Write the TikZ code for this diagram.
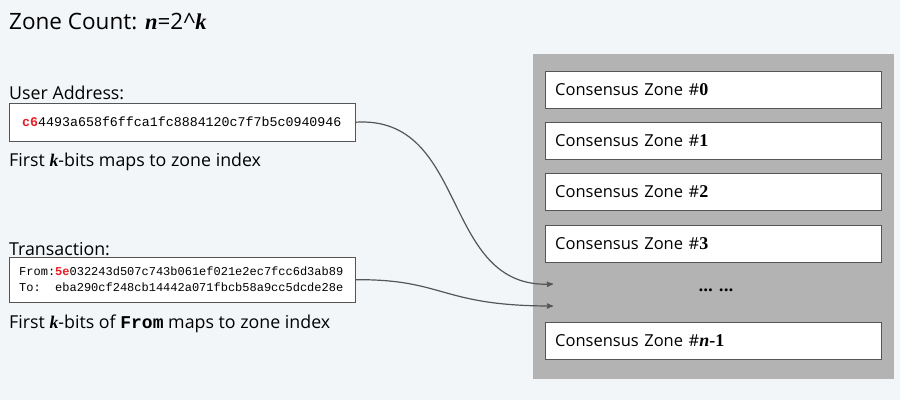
\documentclass[tikz,border=0pt]{standalone}
\usepackage{fontspec}
\usepackage{xcolor}
\setmainfont{Open Sans}
\setmonofont{Liberation Mono}
\newfontfamily\serifbi{Liberation Serif}
\usetikzlibrary{arrows, positioning}
\definecolor{zonebg}{RGB}{243, 246, 249}
\definecolor{zonegray}{RGB}{179, 179, 179}
\definecolor{zoneline}{RGB}{85, 85, 85}
\definecolor{zonered}{RGB}{235, 28, 36}
\newcommand{\bvar}[1]{{\serifbi\bfseries\itshape #1}}
\newcommand{\hexred}[1]{{\color{zonered}\bfseries #1}}

\begin{document}
\begin{tikzpicture}[x=1pt, y=-1pt,
  label/.style={anchor=base west, inner sep=0pt, font=\fontsize{17.8}{20}\selectfont},
  zonebox/.style={draw=zoneline, fill=white, anchor=north west, minimum height=37pt,
    text width=316pt, inner xsep=10pt, align=left, font=\fontsize{16.5}{20}\selectfont},
  hexbox/.style={draw=zoneline, fill=white, anchor=north west, align=left}]
\fill[zonebg] (0,0) rectangle (900,400);
\useasboundingbox (0,0) rectangle (900,400);
% title
\node[label, font=\fontsize{22.5}{26}\selectfont] (title) at (9,29.5) {Zone Count: \bvar{n}=2\^{}\bvar{k}};
% user address
\node[label] (addrlbl) at (9,99) {User Address:};
\node[hexbox, text width=320pt, inner xsep=13pt, minimum height=38pt,
  font=\fontsize{13.3}{16}\ttfamily] (addr) at (9,103) {\hexred{c6}4493a658f6ffca1fc8884120c7f7b5c0940946};
\node[label] (addrnote) at (9,166) {First \bvar{k}-bits maps to zone index};
% transaction
\node[label] (txlbl) at (9,255) {Transaction:};
\node[hexbox, text width=326pt, inner xsep=10pt, minimum height=45pt,
  font=\fontsize{12}{16}\ttfamily] (tx) at (9,257)
  {From:\hexred{5e}032243d507c743b061ef021e2ec7fcc6d3ab89\\To:\hphantom{xx}eba290cf248cb14442a071fbcb58a9cc5dcde28e};
\node[label] (txnote) at (9,328) {First \bvar{k}-bits of {\fontsize{18}{20}\ttfamily\bfseries From} maps to zone index};
% zones
\fill[zonegray] (533,54) rectangle (894,379);
\foreach \i/\y in {0/71, 1/122, 2/173, 3/225}
  \node[zonebox] (zone\i) at (545,\y) {Consensus Zone \#{\serifbi\bfseries\fontsize{18}{20}\selectfont\i}};
\node[font=\fontsize{17}{20}\selectfont\bfseries] (dots) at (716,290) {... ...};
\node[zonebox] (zonen) at (545,322) {Consensus Zone \#{\fontsize{18}{20}\selectfont\bvar{n}\serifbi\bfseries -1}};
% arrows
\coordinate (tipa) at (553,284);
\coordinate (tipb) at (553,306);
\draw[zoneline, line width=1.2pt, ->, >=stealth'] (addr.east) .. controls (470,115) and (440,290) .. (tipa);
\draw[zoneline, line width=1.2pt, ->, >=stealth'] (tx.east) .. controls (445,279) and (440,306) .. (tipb);
\end{tikzpicture}
\end{document}
